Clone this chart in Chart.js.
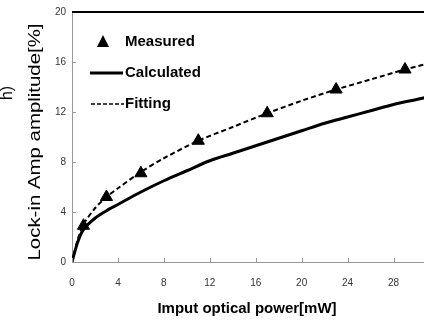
<!DOCTYPE html>
<html>
<head>
<meta charset="utf-8">
<script src="https://cdn.jsdelivr.net/npm/chart.js@4.4.1/dist/chart.umd.min.js"></script>
<style>
  html, body { margin: 0; padding: 0; background: #fff; overflow: hidden; }
  #wrap { width: 460px; height: 325px; }
</style>
</head>
<body>
<div id="wrap"><canvas id="lockinChart" width="460" height="325"></canvas></div>
<script>
// measured points (triangles)
const measuredX = [1, 3, 6, 11, 17, 23, 29];
const measuredY = [2.9, 5.2, 7.1, 9.7, 11.9, 13.8, 15.4];

// calculated curve (solid)
const calcX = [0, 0.5, 1, 2, 3, 4, 6, 8, 10, 12, 14, 16, 18, 20, 22, 24, 26, 28, 30, 32];
const calcY = [0, 1.6, 2.6, 3.5, 4.1, 4.6, 5.6, 6.5, 7.3, 8.1, 8.7, 9.3, 9.9, 10.5, 11.1, 11.6, 12.1, 12.6, 13.0, 13.4];

// fitting curve (dashed)
const fitX = [0, 0.5, 1, 2, 3, 4, 6, 8, 11, 14, 17, 20, 23, 26, 29, 32];
const fitY = [0, 1.8, 3.0, 4.3, 5.2, 5.9, 7.2, 8.3, 9.7, 10.8, 11.9, 12.9, 13.8, 14.6, 15.4, 16.1];

const xTicks = [0, 4, 8, 12, 16, 20, 24, 28, 32];
const yTicks = [0, 4, 8, 12, 16, 20];

const legendLabels = ['Measured', 'Calculated', 'Fitting'];
const xTitle = 'Imput optical power[mW]';
const yTitle = 'Lock-in Amp amplitude[%]';

function toPts(xs, ys) {
  return xs.map((x, i) => ({ x: x, y: ys[i] }));
}

// inward tick marks, top border, titles, legend
const extras = {
  id: 'extras',
  afterDraw(chart) {
    const ctx = chart.ctx;
    const a = chart.chartArea;
    const sx = chart.scales.x, sy = chart.scales.y;
    ctx.save();
    // tick marks pointing into the plot
    ctx.strokeStyle = '#999';
    ctx.lineWidth = 1;
    ctx.beginPath();
    xTicks.forEach(v => {
      const px = Math.round(sx.getPixelForValue(v)) + 0.5;
      ctx.moveTo(px, a.bottom);
      ctx.lineTo(px, a.bottom - 4);
    });
    yTicks.forEach(v => {
      const py = Math.round(sy.getPixelForValue(v)) + 0.5;
      ctx.moveTo(a.left, py);
      ctx.lineTo(a.left + 4, py);
    });
    ctx.stroke();
    // top border
    ctx.strokeStyle = '#000';
    ctx.lineWidth = 2;
    ctx.beginPath();
    ctx.moveTo(a.left, a.top);
    ctx.lineTo(chart.width, a.top);
    ctx.stroke();

    // axis titles
    ctx.fillStyle = '#000';
    ctx.font = 'bold 15px "Liberation Sans Narrow", "Liberation Sans"';
    ctx.textAlign = 'center';
    ctx.textBaseline = 'middle';
    ctx.fillText(xTitle, a.left + 175, 309);
    ctx.save();
    ctx.translate(35, 142);
    ctx.rotate(-Math.PI / 2);
    ctx.scale(1.2, 1);
    ctx.font = '17px "Liberation Sans"';
    ctx.fillText(yTitle, 0, 0);
    ctx.restore();
    // cut-off text at far left
    ctx.save();
    ctx.translate(8, 93);
    ctx.rotate(-Math.PI / 2);
    ctx.font = '16px "Liberation Sans"';
    ctx.fillText('h)', 0, 0);
    ctx.restore();

    // legend
    const lx = a.left + 18;
    ctx.font = 'bold 15px "Liberation Sans Narrow", "Liberation Sans"';
    ctx.textAlign = 'left';
    // triangle
    ctx.beginPath();
    ctx.moveTo(lx + 13, 35);
    ctx.lineTo(lx + 19, 47);
    ctx.lineTo(lx + 7, 47);
    ctx.closePath();
    ctx.fill();
    ctx.fillText(legendLabels[0], lx + 35, 42);
    ctx.lineWidth = 3;
    ctx.beginPath();
    ctx.moveTo(lx, 73);
    ctx.lineTo(lx + 33, 73);
    ctx.stroke();
    ctx.fillText(legendLabels[1], lx + 35, 73);
    ctx.lineWidth = 1.5;
    ctx.setLineDash([4, 2]);
    ctx.beginPath();
    ctx.moveTo(lx + 1, 104);
    ctx.lineTo(lx + 34, 104);
    ctx.stroke();
    ctx.setLineDash([]);
    ctx.fillText(legendLabels[2], lx + 35, 104);
    ctx.restore();
  }
};

new Chart(document.getElementById('lockinChart'), {
  type: 'scatter',
  data: {
    datasets: [{
      label: legendLabels[0],
      data: toPts(measuredX, measuredY),
      pointStyle: 'triangle',
      pointRadius: 7,
      backgroundColor: '#000',
      borderColor: '#000',
      showLine: false,
      order: 0
    }, {
      label: legendLabels[1],
      data: toPts(calcX, calcY),
      showLine: true,
      borderColor: '#000',
      borderWidth: 3,
      pointRadius: 0,
      tension: 0.3,
      order: 1
    }, {
      label: legendLabels[2],
      data: toPts(fitX, fitY),
      showLine: true,
      borderColor: '#000',
      borderWidth: 2,
      borderDash: [5, 3],
      pointRadius: 0,
      tension: 0.3,
      order: 2
    }]
  },
  options: {
    responsive: false,
    animation: false,
    layout: { padding: { left: 0, top: 10, right: 12, bottom: 0 } },
    plugins: { legend: { display: false }, tooltip: { enabled: false } },
    scales: {
      x: {
        type: 'linear',
        min: 0, max: 32,
        afterBuildTicks: s => { s.ticks = xTicks.map(v => ({ value: v })); },
        afterFit: s => { s.height = 63; },
        grid: { display: false, drawTicks: false },
        border: { color: '#999', width: 1 },
        ticks: { padding: 15, color: '#333', font: { family: 'Liberation Sans', size: 10 } }
      },
      y: {
        min: 0, max: 20,
        afterBuildTicks: s => { s.ticks = yTicks.map(v => ({ value: v })); },
        afterFit: s => { s.width = 72; },
        grid: { display: false, drawTicks: false },
        border: { color: '#999', width: 1 },
        ticks: { padding: 6, color: '#333', font: { family: 'Liberation Sans', size: 10 } }
      }
    }
  },
  plugins: [extras]
});
</script>
</body>
</html>
